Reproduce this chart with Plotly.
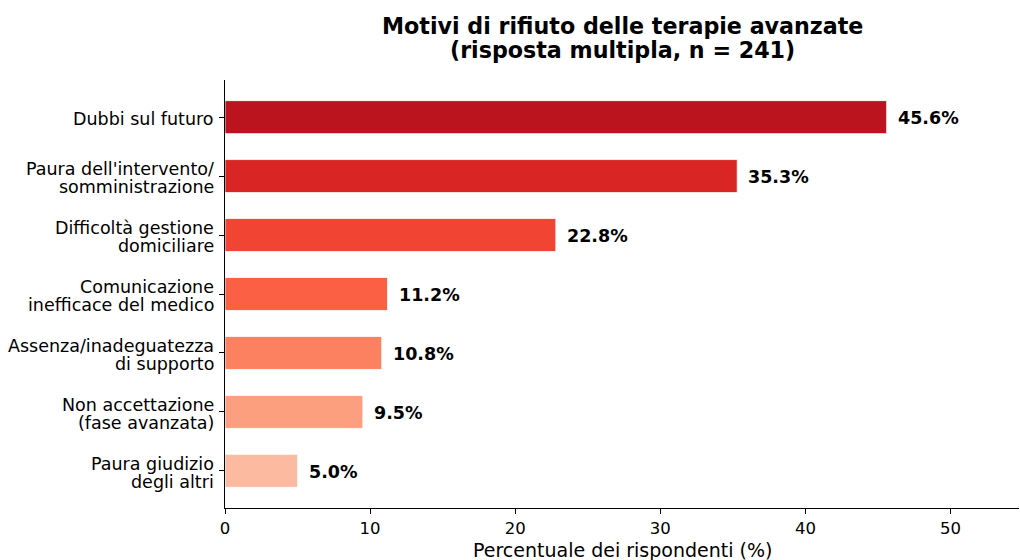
import plotly.graph_objects as go

categories = [
    "Paura giudizio<br>degli altri",
    "Non accettazione<br>(fase avanzata)",
    "Assenza/inadeguatezza<br>di supporto",
    "Comunicazione<br>inefficace del medico",
    "Difficoltà gestione<br>domiciliare",
    "Paura dell'intervento/<br>somministrazione",
    "Dubbi sul futuro",
]
values = [5.0, 9.5, 10.8, 11.2, 22.8, 35.3, 45.6]
colors = ["#fcbba1", "#fc9f7f", "#fc8161", "#fc6044", "#f14432", "#d92523", "#bc141f"]
x_ticks = [0, 10, 20, 30, 40, 50]
title_lines = ["Motivi di rifiuto delle terapie avanzate", "(risposta multipla, n = 241)"]
x_title = "Percentuale dei rispondenti (%)"

FONT = "DejaVu Sans"
W, H = 1020, 560
ML, MR, MT, MB = 225, 1, 80, 52
PH = H - MT - MB


def py(ypx):
    return (H - MB - ypx) / PH


fig = go.Figure()
fig.add_trace(go.Bar(
    x=values,
    y=list(range(len(categories))),
    orientation="h",
    width=0.56,
    marker=dict(color=colors, line=dict(color="white", width=0.8)),
    hoverinfo="skip",
))

for i, v in enumerate(values):
    fig.add_annotation(
        x=v, y=i, text=f"<b>{v:.1f}%</b>", showarrow=False,
        xanchor="left", xshift=9, yanchor="middle", yshift=-1,
        font=dict(family=FONT, size=17.5, color="black"),
    )

# y tick labels drawn line by line for tight line spacing
for i, lab in enumerate(categories):
    lines = lab.split("<br>")
    n = len(lines)
    for j, ln in enumerate(lines):
        shift = ((n - 1) / 2 - j) * 18 - 2
        fig.add_annotation(
            xref="paper", x=0, y=i, yref="y", text=ln, showarrow=False,
            xanchor="right", xshift=-9, yanchor="middle", yshift=shift,
            font=dict(family=FONT, size=17.5, color="black"),
        )

for j, t in enumerate(title_lines):
    fig.add_annotation(
        xref="paper", yref="paper", x=0.5, y=py(26 + 24 * j), text=f"<b>{t}</b>",
        showarrow=False, xanchor="center", yanchor="middle",
        font=dict(family=FONT, size=22.2, color="black"),
    )

fig.add_annotation(
    xref="paper", yref="paper", x=0.5, y=py(550), text=x_title,
    showarrow=False, xanchor="center", yanchor="middle",
    font=dict(family=FONT, size=19, color="black"),
)

fig.update_layout(
    width=W, height=H,
    margin=dict(l=ML, r=MR, t=MT, b=MB, autoexpand=False),
    paper_bgcolor="white", plot_bgcolor="white",
    showlegend=False,
    font=dict(family=FONT, size=16, color="black"),
    xaxis=dict(
        range=[0, 54.72],
        tickvals=x_ticks,
        ticktext=[str(t) for t in x_ticks],
        showgrid=False, zeroline=False, automargin=False,
        showline=True, linecolor="black", linewidth=1,
        ticks="outside", ticklen=5, tickcolor="black",
        tickfont=dict(family=FONT, size=16.5),
    ),
    yaxis=dict(
        range=[-0.63, 6.63],
        tickvals=list(range(len(categories))),
        ticktext=[""] * len(categories),
        showgrid=False, zeroline=False, automargin=False,
        showline=True, linecolor="black", linewidth=1,
        ticks="outside", ticklen=5, tickcolor="black",
    ),
)

fig.write_html(
    "out.html",
    config={"displayModeBar": False},
    post_script="document.body.style.margin='0';",
)
